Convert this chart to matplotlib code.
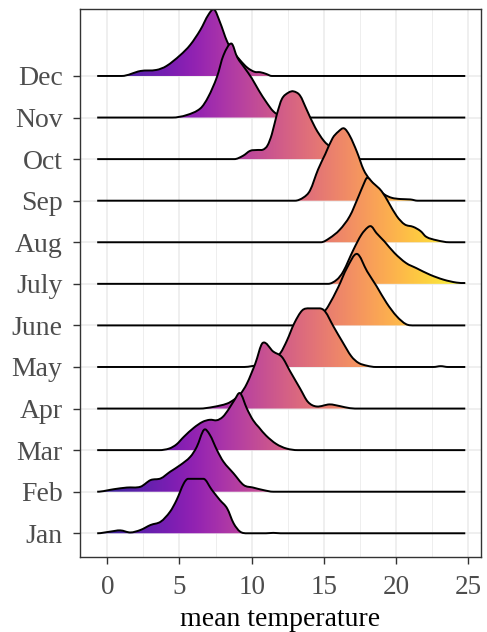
import matplotlib
matplotlib.use("Agg")
import matplotlib.pyplot as plt
import numpy as np
from matplotlib.path import Path
from matplotlib.patches import PathPatch
from matplotlib.colors import ListedColormap

plt.rcParams["font.family"] = "Liberation Serif"

months = ["Jan", "Feb", "Mar", "Apr", "May", "June",
          "July", "Aug", "Sep", "Oct", "Nov", "Dec"]

# ridge outlines: (mean temperature, height in row units)
jan = [(-0.7, 0), (0.2, 0.04), (0.9, 0.07), (1.6, 0.02), (2.3, 0.08), (3.0, 0.2),
       (3.7, 0.28), (4.35, 0.52), (4.8, 0.8), (5.3, 1.2), (5.6, 1.31), (6.66, 1.31),
       (7.25, 1.04), (7.8, 0.8), (8.3, 0.6), (8.75, 0.24), (9.2, 0.04), (9.7, 0),
       (11.0, 0), (11.5, 0.01), (12.0, 0), (24.8, 0)]
feb = [(-0.7, 0), (0.45, 0.06), (1.35, 0.1), (2.3, 0.12), (3.0, 0.28), (3.7, 0.32),
       (4.35, 0.48), (5.05, 0.64), (5.75, 0.84), (6.2, 1.08), (6.7, 1.49), (7.1, 1.37),
       (7.6, 1.0), (8.05, 0.72), (8.75, 0.44), (9.45, 0.16), (10.1, 0.1), (10.8, 0.04),
       (11.5, 0), (24.8, 0)]
mar = [(-0.7, 0), (3.6, 0), (4.3, 0.04), (4.8, 0.14), (5.3, 0.32), (6.0, 0.54),
       (6.6, 0.68), (7.1, 0.73), (7.6, 0.72), (8.0, 0.8), (8.4, 0.98), (8.8, 1.2),
       (9.2, 1.37), (9.67, 1.0), (10.1, 0.72), (10.5, 0.55), (11.0, 0.35), (11.7, 0.15),
       (12.4, 0.04), (13.2, 0), (24.8, 0)]
apr = [(-0.7, 0), (6.4, 0), (7.35, 0.04), (8.3, 0.12), (8.8, 0.22), (9.2, 0.34),
       (9.67, 0.6), (10.25, 1.08), (10.77, 1.58), (11.5, 1.37), (12.1, 1.24),
       (12.66, 0.9), (13.36, 0.48), (13.9, 0.16), (14.5, 0.05), (15.4, 0.1),
       (16.1, 0.06), (16.8, 0.01), (17.5, 0), (24.8, 0)]
may = [(-0.7, 0), (9.5, 0), (10.0, 0.02), (10.5, 0.05), (11.0, 0.1), (11.5, 0.18),
       (12.0, 0.34), (12.45, 0.64), (12.95, 1.05), (13.5, 1.36), (14.0, 1.41),
       (14.7, 1.41), (15.1, 1.33), (15.66, 0.98), (16.3, 0.6), (16.9, 0.26),
       (17.4, 0.1), (18.0, 0.03), (18.6, 0), (22.6, 0), (23.1, 0.02), (23.6, 0), (24.8, 0)]
june = [(-0.7, 0), (13.5, 0), (14.0, 0.05), (14.5, 0.15), (15.0, 0.32), (15.3, 0.46),
        (16.0, 0.92), (16.6, 1.38), (17.3, 1.72), (18.0, 1.3), (18.66, 0.94),
        (19.35, 0.54), (20.05, 0.22), (20.7, 0.03), (21.3, 0), (24.8, 0)]
july = [(-0.7, 0), (15.3, 0), (15.9, 0.1), (16.35, 0.3), (17.05, 0.82), (17.6, 1.18),
        (18.05, 1.36), (18.3, 1.38), (18.65, 1.22), (19.2, 1.02), (19.9, 0.74),
        (20.7, 0.5), (21.4, 0.38), (22.35, 0.22), (23.3, 0.1), (24.2, 0.03), (24.8, 0.02)]
aug = [(-0.7, 0), (14.8, 0), (15.4, 0.1), (16.1, 0.3), (16.8, 0.63), (17.4, 1.1),
       (17.75, 1.39), (18.0, 1.55), (18.4, 1.43), (19.0, 1.23), (19.5, 0.95),
       (20.05, 0.63), (20.6, 0.43), (21.2, 0.37), (21.7, 0.27), (22.1, 0.13),
       (22.8, 0.05), (23.7, 0), (24.8, 0)]
sep = [(-0.7, 0), (13.0, 0), (13.6, 0.08), (14.05, 0.25), (14.6, 0.75), (15.1, 1.12),
       (15.6, 1.5), (16.0, 1.66), (16.4, 1.74), (16.8, 1.56), (17.3, 1.17),
       (17.75, 0.75), (18.2, 0.5), (18.7, 0.3), (19.2, 0.15), (19.7, 0.07),
       (20.3, 0.04), (21.0, 0.03), (21.5, 0), (24.8, 0)]
oct_ = [(-0.7, 0), (8.8, 0), (9.4, 0.08), (9.9, 0.2), (10.4, 0.22), (10.8, 0.23),
        (11.1, 0.33), (11.4, 0.6), (11.75, 1.08), (12.1, 1.45), (12.55, 1.6),
        (12.9, 1.63), (13.35, 1.53), (13.8, 1.2), (14.4, 0.76), (15.0, 0.44),
        (15.5, 0.28), (16.0, 0.14), (16.5, 0.06), (17.2, 0), (24.8, 0)]
nov = [(-0.7, 0), (4.5, 0), (5.5, 0.06), (6.45, 0.22), (7.0, 0.5), (7.6, 0.98),
       (8.05, 1.5), (8.6, 1.78), (9.0, 1.45), (9.5, 1.2), (10.0, 0.95), (10.5, 0.65),
       (11.0, 0.38), (11.5, 0.15), (12.0, 0.04), (12.6, 0), (24.8, 0)]
dec = [(-0.7, 0), (1.0, 0), (2.3, 0.12), (3.4, 0.145), (4.1, 0.24), (5.05, 0.5),
       (5.75, 0.75), (6.45, 1.11), (7.0, 1.47), (7.4, 1.6), (7.8, 1.3), (8.3, 0.83),
       (8.7, 0.6), (9.2, 0.38), (9.7, 0.2), (10.2, 0.1), (10.6, 0.09), (11.0, 0.05),
       (11.4, 0), (24.8, 0)]

ridges = [jan, feb, mar, apr, may, june, july, aug, sep, oct_, nov, dec]


def ridge_path(pts, base):
    # smooth cubic through the knots (central-difference slopes), as bezier segments
    x = np.array([p[0] for p in pts], float)
    y = np.array([p[1] for p in pts], float) + base
    h = np.diff(x)
    d = np.diff(y) / h
    m = np.zeros_like(y)
    for k in range(1, len(x) - 1):
        if d[k - 1] != 0 and d[k] != 0:
            m[k] = (y[k + 1] - y[k - 1]) / (x[k + 1] - x[k - 1])
    verts = [(x[0], y[0])]
    codes = [Path.MOVETO]
    for k in range(len(x) - 1):
        verts += [(x[k] + h[k] / 3, y[k] + m[k] * h[k] / 3),
                  (x[k + 1] - h[k] / 3, y[k + 1] - m[k + 1] * h[k] / 3),
                  (x[k + 1], y[k + 1])]
        codes += [Path.CURVE4] * 3
    return verts, codes


# plasma, washed a little toward white like the printed original
base_cols = plt.get_cmap("plasma")(np.linspace(0, 1, 256))[:, :3]
cmap = ListedColormap(0.88 * base_cols + 0.12)

fig = plt.figure(figsize=(4.87, 6.32), dpi=100)
ax = fig.add_axes([0.164, 0.1187, 0.824, 0.867])

x_lo, x_hi = -0.7, 24.8
grad = np.linspace(0, 1, 512).reshape(1, -1)

for k, pts in enumerate(ridges):
    verts, codes = ridge_path(pts, k)
    top = max(p[1] for p in pts)
    fill_verts = verts + [(x_hi, k), (x_lo, k), (x_lo, k)]
    fill_codes = codes + [Path.LINETO, Path.LINETO, Path.CLOSEPOLY]
    clip = PathPatch(Path(fill_verts, fill_codes), facecolor="none",
                     edgecolor="none", transform=ax.transData)
    ax.add_patch(clip)
    im = ax.imshow(grad, cmap=cmap, aspect="auto", interpolation="bilinear",
                   extent=(x_lo, x_hi, k - 0.01, k + top + 0.15), origin="lower",
                   zorder=30 - 2 * k)
    im.set_clip_path(clip)
    ax.add_patch(PathPatch(Path(verts, codes), fill=False, edgecolor="black",
                           lw=1.4, capstyle="butt", joinstyle="round",
                           zorder=31 - 2 * k))

ax.set_xlim(-1.9, 25.9)
ax.set_ylim(-0.57, 12.61)
ax.set_xticks([0, 5, 10, 15, 20, 25])
ax.set_xticks([2.5, 7.5, 12.5, 17.5, 22.5], minor=True)
ax.set_yticks(range(12))
ax.set_yticklabels(months)
ax.set_axisbelow(True)
ax.grid(which="major", color="#ebebeb", lw=1.1)
ax.grid(which="minor", axis="x", color="#ebebeb", lw=0.6)
ax.tick_params(which="minor", length=0)
ax.tick_params(which="major", length=5, width=1, color="#333333",
               labelcolor="#4d4d4d")
ax.tick_params(axis="y", labelsize=20, pad=7.5)
ax.tick_params(axis="x", labelsize=19.5, pad=8)
for s in ax.spines.values():
    s.set_color("#333333")
    s.set_linewidth(1)
    s.set_zorder(50)
ax.set_xlabel("mean temperature", fontsize=20, color="black", labelpad=5)

fig.savefig("out.png", dpi=100)
